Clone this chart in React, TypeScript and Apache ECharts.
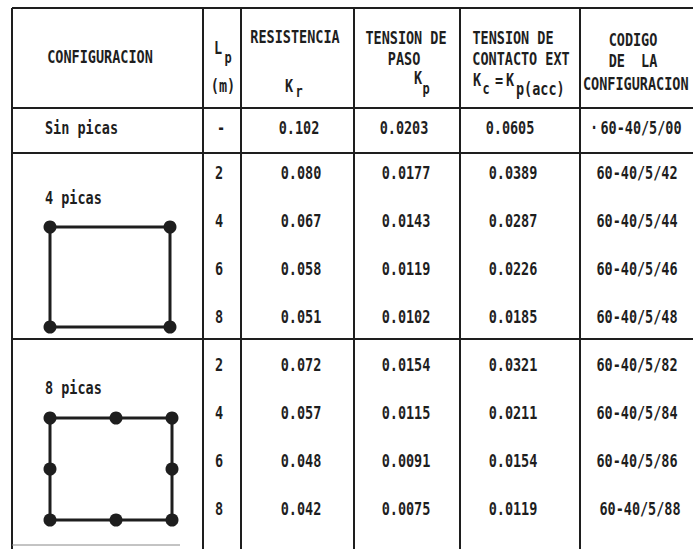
import React, { useEffect, useRef } from "react";
import * as echarts from "echarts";

// ---- data ----
const lpValues = [2, 4, 6, 8];
const sinPicas = { lp: "-", kr: 0.102, kp: 0.0203, kc: 0.0605, code: "60-40/5/00" };
const kr4 = [0.08, 0.067, 0.058, 0.051];
const kp4 = [0.0177, 0.0143, 0.0119, 0.0102];
const kc4 = [0.0389, 0.0287, 0.0226, 0.0185];
const codes4 = ["60-40/5/42", "60-40/5/44", "60-40/5/46", "60-40/5/48"];
const kr8 = [0.072, 0.057, 0.048, 0.042];
const kp8 = [0.0154, 0.0115, 0.0091, 0.0075];
const kc8 = [0.0321, 0.0211, 0.0154, 0.0119];
const codes8 = ["60-40/5/82", "60-40/5/84", "60-40/5/86", "60-40/5/88"];
const groupLabels = ["4 picas", "8 picas"];

const INK = "#1e1e1e";
const FONT = "DejaVu Sans Mono";

function txt(x: number, y: number, text: string, opts: any = {}) {
  return {
    type: "text",
    x,
    y,
    scaleY: opts.scaleY ?? 1.25,
    scaleX: opts.scaleX ?? 1,
    style: {
      text,
      fill: INK,
      font: `${opts.weight ?? "bold"} ${opts.size ?? 13.5}px "${FONT}"`,
      textAlign: opts.align ?? "center",
      textVerticalAlign: "middle",
    },
  };
}

function line(x1: number, y1: number, x2: number, y2: number, w = 2, color = INK) {
  return {
    type: "line",
    shape: { x1, y1, x2, y2 },
    style: { stroke: color, lineWidth: w },
  };
}

export default function App() {
  const ref = useRef<HTMLDivElement>(null);
  useEffect(() => {
    if (!ref.current) return;
    const chart = echarts.init(ref.current, null, { renderer: "svg" });
    const els: any[] = [];

    // column boundaries
    const colX = [12, 203, 241, 354, 460, 580];
    const top = 8;
    const bottom = 549;
    const rowLines = [8, 108, 153, 339];
    rowLines.forEach((y) => els.push(line(12, y, 693, y, 2)));
    colX.forEach((x) => els.push(line(x, top, x, bottom, 2)));
    els.push(line(12, 545, 180, 545, 1, "#888"));

    // header
    els.push(txt(100, 57, "CONFIGURACION"));
    els.push(txt(218, 48, "L"));
    els.push(txt(228, 57, "p", { size: 12 }));
    els.push(txt(223, 86, "(m)"));
    els.push(txt(295, 37, "RESISTENCIA"));
    els.push(txt(289, 86, "K"));
    els.push(txt(299, 91, "r", { size: 12 }));
    els.push(txt(406, 38, "TENSION DE"));
    els.push(txt(404, 59, "PASO"));
    els.push(txt(418, 78, "K"));
    els.push(txt(426, 88, "p", { size: 12 }));
    els.push(txt(513, 38, "TENSION DE"));
    els.push(txt(521, 59, "CONTACTO EXT"));
    els.push(txt(477, 80, "K"));
    els.push(txt(486, 88, "c", { size: 12 }));
    els.push(txt(499, 81, "="));
    els.push(txt(510, 80, "K"));
    els.push(txt(516, 89, "p(acc)", { align: "left" }));
    els.push(txt(633, 40, "CODIGO"));
    els.push(txt(633, 61, "DE  LA"));
    els.push(txt(583, 84, "CONFIGURACION", { align: "left" }));

    // sin picas row
    const ys = 128;
    els.push(txt(45, ys, "Sin picas", { align: "left" }));
    els.push(txt(221, ys, sinPicas.lp));
    els.push(txt(299, ys, sinPicas.kr.toFixed(3)));
    els.push(txt(404, ys, sinPicas.kp.toFixed(4)));
    els.push(txt(510, ys, sinPicas.kc.toFixed(4)));
    els.push(txt(590, ys, "·", { align: "left" }));
    els.push(txt(641, ys, sinPicas.code));

    const groups = [
      { y0: 173, kr: kr4, kp: kp4, kc: kc4, codes: codes4, labelY: 198 },
      { y0: 365, kr: kr8, kp: kp8, kc: kc8, codes: codes8, labelY: 388 },
    ];
    groups.forEach((g, gi) => {
      els.push(txt(45, g.labelY, groupLabels[gi], { align: "left" }));
      lpValues.forEach((lp, i) => {
        const y = g.y0 + i * 48;
        els.push(txt(219, y, String(lp)));
        els.push(txt(301, y, g.kr[i].toFixed(3)));
        els.push(txt(406, y, g.kp[i].toFixed(4)));
        els.push(txt(513, y, g.kc[i].toFixed(4)));
        els.push(txt(gi === 1 && i === 3 ? 640 : 637, y, g.codes[i]));
      });
    });

    // 4 picas drawing
    const sq1 = { x1: 50, y1: 227, x2: 170, y2: 327 };
    els.push({
      type: "rect",
      shape: { x: sq1.x1, y: sq1.y1, width: sq1.x2 - sq1.x1, height: sq1.y2 - sq1.y1 },
      style: { fill: "none", stroke: INK, lineWidth: 3 },
    });
    [
      [sq1.x1, sq1.y1],
      [sq1.x2, sq1.y1],
      [sq1.x1, sq1.y2],
      [sq1.x2, sq1.y2],
    ].forEach(([cx, cy]) =>
      els.push({ type: "circle", shape: { cx, cy, r: 6.5 }, style: { fill: INK } })
    );

    // 8 picas drawing
    const sq2 = { x1: 50, y1: 418, x2: 172, y2: 520 };
    const mx = 116;
    const my = (sq2.y1 + sq2.y2) / 2;
    els.push({
      type: "rect",
      shape: { x: sq2.x1, y: sq2.y1, width: sq2.x2 - sq2.x1, height: sq2.y2 - sq2.y1 },
      style: { fill: "none", stroke: INK, lineWidth: 3 },
    });
    [
      [sq2.x1, sq2.y1],
      [mx, sq2.y1],
      [sq2.x2, sq2.y1],
      [sq2.x1, my],
      [sq2.x2, my],
      [sq2.x1, sq2.y2],
      [mx, sq2.y2],
      [sq2.x2, sq2.y2],
    ].forEach(([cx, cy]) =>
      els.push({ type: "circle", shape: { cx, cy, r: 6.5 }, style: { fill: INK } })
    );

    chart.setOption({
      animation: false,
      backgroundColor: "#ffffff",
      graphic: { elements: els },
    });
    return () => chart.dispose();
  }, []);

  return (
    <div
      ref={ref}
      style={{ position: "fixed", left: 0, top: 0, width: 693, height: 549, background: "#fff" }}
    />
  );
}
